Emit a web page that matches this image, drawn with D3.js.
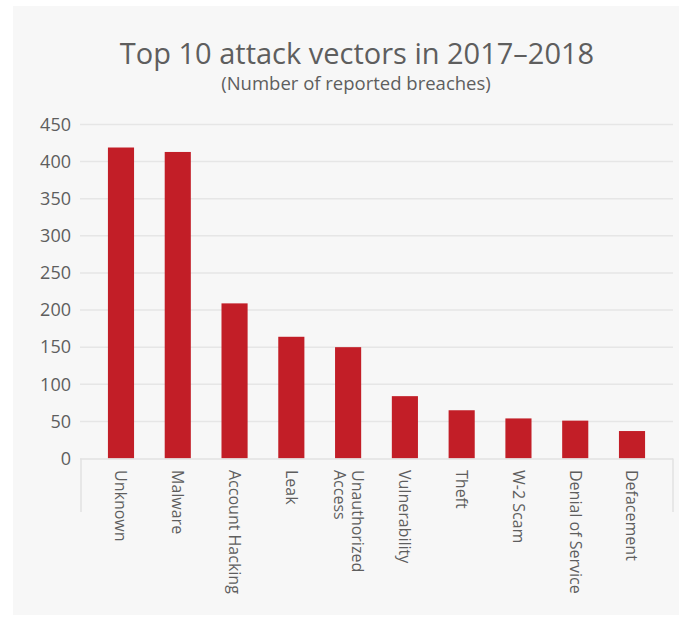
<!DOCTYPE html>
<html>
<head>
<meta charset="utf-8">
<script src="https://cdn.jsdelivr.net/npm/d3@7"></script>
<style>
  html, body { margin: 0; padding: 0; background: #ffffff; }
  svg { display: block; font-family: "Open Sans", "Noto Sans", sans-serif; }
</style>
</head>
<body>
<svg id="chart" width="679" height="617"></svg>
<script>
const categories = ["Unknown", "Malware", "Account Hacking", "Leak", "Unauthorized\nAccess", "Vulnerability", "Theft", "W-2 Scam", "Denial of Service", "Defacement"];
const values = [419, 413, 209, 164, 150, 84, 65, 54, 51, 37];
const yTicks = [0, 50, 100, 150, 200, 250, 300, 350, 400, 450];
const title = "Top 10 attack vectors in 2017–2018";
const subtitle = "(Number of reported breaches)";

const svg = d3.select("#chart");
const textColor = "#5e5e5e";

// panel background
svg.append("rect").attr("x", 13).attr("y", 6).attr("width", 666).attr("height", 609).attr("fill", "#f7f7f7");

const plotLeft = 80, plotRight = 673;
const y = d3.scaleLinear().domain([0, 450]).range([458.5, 124.5]);
const x = d3.scaleBand().domain(categories).range([92.6, 660.4]).paddingInner(0.54).paddingOuter(0.27);

// gridlines
svg.append("g").selectAll("line").data(yTicks.filter(d => d > 0)).join("line")
  .attr("x1", plotLeft).attr("x2", plotRight)
  .attr("y1", d => y(d)).attr("y2", d => y(d))
  .attr("stroke", "#e6e6e6").attr("stroke-width", 1.5);

// y axis labels
const yAxis = d3.axisLeft(y).tickValues(yTicks).tickSize(0).tickPadding(0);
const gy = svg.append("g").attr("transform", "translate(71,0)").call(yAxis);
gy.select(".domain").remove();
gy.selectAll("text").attr("fill", textColor).attr("font-size", 18).attr("font-family", "'Open Sans', sans-serif");

// bars
svg.append("g").selectAll("rect").data(values).join("rect")
  .attr("x", (d, i) => x(categories[i]))
  .attr("width", x.bandwidth())
  .attr("y", d => y(d))
  .attr("height", d => y(0) - y(d))
  .attr("fill", "#c21e27");

// baseline and x-axis frame
svg.append("line").attr("x1", plotLeft).attr("x2", plotRight).attr("y1", y(0) + 0.5).attr("y2", y(0) + 0.5)
  .attr("stroke", "#e2e2e2").attr("stroke-width", 1.5);
[plotLeft + 1, plotRight].forEach(xx => {
  svg.append("line").attr("x1", xx).attr("x2", xx).attr("y1", y(0)).attr("y2", 512)
    .attr("stroke", "#e2e2e2").attr("stroke-width", 1.5);
});

// x labels (rotated)
const gx = svg.append("g");
categories.forEach((c, i) => {
  const lines = c.split("\n");
  const cx = x(c) + x.bandwidth() / 2;
  const lh = 18;
  const t = gx.append("text")
    .attr("transform", `translate(${cx},470) rotate(90)`)
    .attr("fill", textColor).attr("font-size", 16)
    .attr("text-anchor", "start");
  lines.forEach((l, j) => {
    const off = (j - (lines.length - 1) / 2) * lh;
    t.append("tspan").attr("x", 0).attr("y", off).attr("dy", "0.35em").text(l);
  });
});

// titles
svg.append("text").attr("x", 357).attr("y", 64).attr("text-anchor", "middle")
  .attr("fill", textColor).attr("font-size", 29).text(title);
svg.append("text").attr("x", 356).attr("y", 90).attr("text-anchor", "middle")
  .attr("fill", textColor).attr("font-size", 18.5).text(subtitle);
</script>
</body>
</html>
